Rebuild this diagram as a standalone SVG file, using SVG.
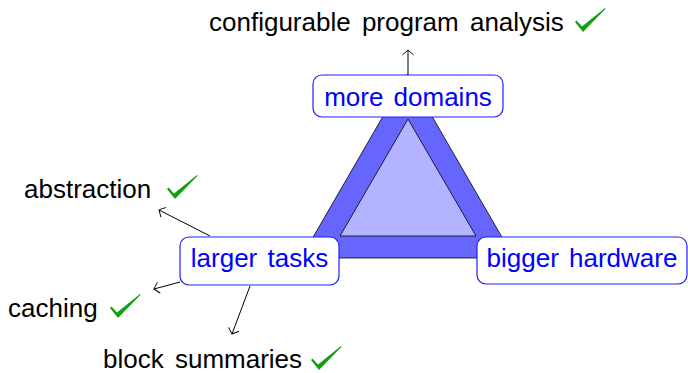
<svg xmlns="http://www.w3.org/2000/svg" width="688" height="373" viewBox="0 0 688 373">
  <style>
    .lbl { font-family: "Liberation Sans", Arial, sans-serif; font-size: 26px; word-spacing: 4px; fill: #000; }
    .node rect { fill: #fff; stroke: #2020ff; stroke-width: 1.2; }
    .node text { font-family: "Liberation Sans", Arial, sans-serif; font-size: 26px; word-spacing: 3px; fill: #0000ff; text-anchor: middle; }
    .conn { stroke: #000; stroke-width: 1; fill: none; marker-end: url(#to); }
    .tick { fill: #10a010; }
  </style>
  <defs>
    <marker id="to" markerUnits="userSpaceOnUse" markerWidth="14" markerHeight="14" viewBox="-7 -7 14 14" refX="0" refY="0" orient="auto">
      <path d="M-5,-5.5 Q-1.2,-1.4 0,0 Q-1.2,1.4 -5,5.5" fill="none" stroke="#000" stroke-width="1"/>
    </marker>
    <path id="check" d="M-7,-9 L-5.5,-10.5 L0,-4.5 L23,-23 L23.6,-22.2 L1,1 Z"/>
  </defs>

  <!-- the triangle: thick outer band with lighter inner face -->
  <g id="triangle">
    <polygon points="407.5,74 301,258 514,258" fill="#6666ff" stroke="#000" stroke-width="0.8"/>
    <polygon points="408,119 340,236 476,236" fill="#b3b3ff" stroke="#000" stroke-width="0.8"/>
  </g>

  <g id="connectors">
    <line class="conn" x1="408" y1="75" x2="408" y2="50"/>
    <line class="conn" x1="210" y1="236" x2="159" y2="210"/>
    <line class="conn" x1="180" y1="282" x2="154" y2="289"/>
    <line class="conn" x1="250" y1="286" x2="232" y2="334"/>
  </g>

  <g id="node-domains" class="node">
    <rect x="313" y="75" width="190" height="42" rx="9"/>
    <text x="408" y="106">more domains</text>
  </g>
  <g id="node-tasks" class="node">
    <rect x="180" y="237" width="159" height="48" rx="9"/>
    <text x="259.5" y="267">larger tasks</text>
  </g>
  <g id="node-hardware" class="node">
    <rect x="477" y="237" width="210" height="47" rx="9"/>
    <text x="582" y="267">bigger hardware</text>
  </g>

  <g id="label-config">
    <text class="lbl" x="209" y="31">configurable program analysis</text>
    <use href="#check" class="tick" x="582" y="31"/>
  </g>
  <g id="label-abstraction">
    <text class="lbl" x="24" y="198">abstraction</text>
    <use href="#check" class="tick" x="174" y="198"/>
  </g>
  <g id="label-caching">
    <text class="lbl" x="8" y="317">caching</text>
    <use href="#check" class="tick" x="117" y="317"/>
  </g>
  <g id="label-summaries">
    <text class="lbl" x="103" y="368">block summaries</text>
    <use href="#check" class="tick" x="318" y="369"/>
  </g>
</svg>
